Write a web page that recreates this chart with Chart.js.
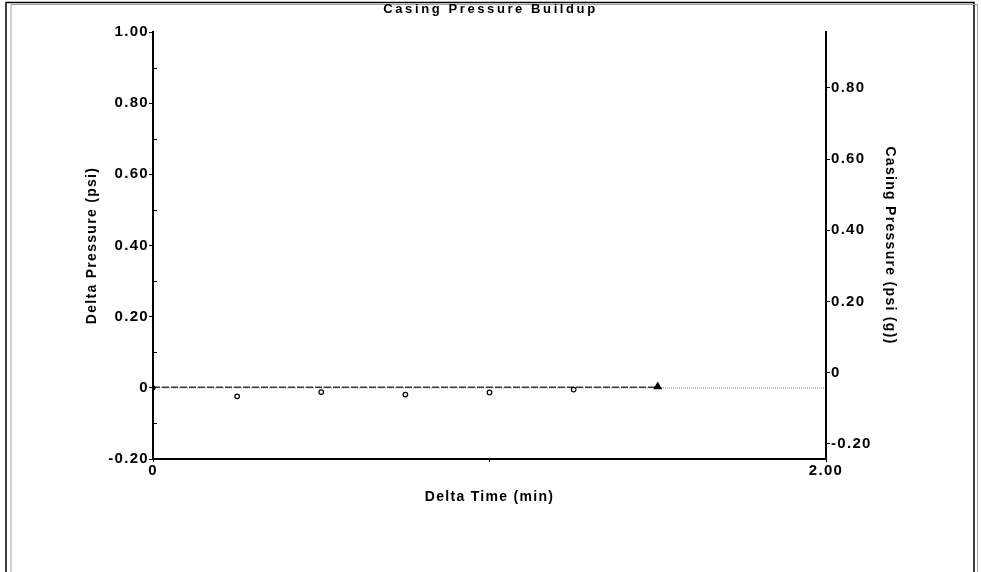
<!DOCTYPE html>
<html>
<head>
<meta charset="utf-8">
<title>Casing Pressure Buildup</title>
<script src="https://cdn.jsdelivr.net/npm/chart.js@4.4.0/dist/chart.umd.min.js"></script>
<style>
  html, body { margin: 0; padding: 0; background: #fff; }
  canvas { display: block; }
</style>
</head>
<body>
<canvas id="chart" width="981" height="572"></canvas>
<script>
// readings, delta time in minutes
const timeMin = [0, 0.25, 0.5, 0.75, 1.0, 1.25, 1.5];
const deltaPressure = [0, -0.024, -0.012, -0.019, -0.013, -0.005, 0.003];
const casingPressure = [-0.041, -0.041, -0.041, -0.041, -0.041, -0.041, -0.041];
const zeroLineX = [0, 2];
const zeroLineY = [0, 0];

// axis ticks
const leftTicks = [-0.2, 0, 0.2, 0.4, 0.6, 0.8, 1.0];
const leftMinorTicks = [-0.1, 0.1, 0.3, 0.5, 0.7, 0.9];
const rightTicks = [-0.2, 0, 0.2, 0.4, 0.6, 0.8];
const xTicks = [0, 1, 2];
const xTickLabels = ['0', '', '2.00'];

const FONT = '"Liberation Sans", Arial, sans-serif';

const fmt = (v) => (v === 0 ? '0' : v.toFixed(2));

// frame around the whole picture + letter spacing for the old-style text
const framePlugin = {
  id: 'frame',
  beforeDraw(chart) {
    const ctx = chart.ctx;
    ctx.save();
    ctx.fillStyle = '#fff';
    ctx.fillRect(0, 0, chart.width, chart.height);
    ctx.lineWidth = 1.5;
    ctx.strokeStyle = '#000';
    ctx.beginPath();
    ctx.moveTo(6, chart.height);
    ctx.lineTo(6, 2.5);
    ctx.lineTo(974, 2.5);
    ctx.lineTo(974, chart.height);
    ctx.stroke();
    ctx.lineWidth = 1;
    ctx.strokeStyle = '#a0a0a0';
    ctx.beginPath();
    ctx.moveTo(11, chart.height);
    ctx.lineTo(11, 4.5);
    ctx.lineTo(977.5, 4.5);
    ctx.lineTo(977.5, chart.height);
    ctx.stroke();
    ctx.restore();
    ctx.letterSpacing = '2.6px'; // main title
  },
  afterDatasetsDraw(chart) {
    chart.ctx.letterSpacing = '1.3px'; // axis titles and tick labels
  },
  afterDraw(chart) {
    const ctx = chart.ctx;
    ctx.letterSpacing = '0px';
    // minor ticks on the left axis point inward
    const y = chart.scales.y;
    const x0 = chart.chartArea.left;
    ctx.save();
    ctx.strokeStyle = '#000';
    ctx.lineWidth = 1;
    ctx.beginPath();
    leftMinorTicks.forEach((v) => {
      const py = Math.round(y.getPixelForValue(v)) + 0.5;
      ctx.moveTo(x0, py);
      ctx.lineTo(x0 + 4, py);
    });
    ctx.stroke();
    ctx.restore();
  }
};

const pointStyles = timeMin.map((t, i) => (i === timeMin.length - 1 ? 'triangle' : 'circle'));
const pointFills = timeMin.map((t, i) => (i === 0 || i === timeMin.length - 1 ? '#000' : '#fff'));
const pointSizes = timeMin.map((t, i) => (i === 0 ? 2 : i === timeMin.length - 1 ? 4 : 2.3));

const tickFont = { family: FONT, size: 15, weight: 'bold' };
const titleFont = { family: FONT, size: 14, weight: 'bold' };

new Chart(document.getElementById('chart'), {
  type: 'scatter',
  data: {
    datasets: [
      {
        label: 'Delta Pressure',
        data: timeMin.map((t, i) => ({ x: t, y: deltaPressure[i] })),
        yAxisID: 'y',
        showLine: false,
        pointStyle: pointStyles,
        pointRadius: pointSizes,
        pointBackgroundColor: pointFills,
        pointBorderColor: '#000',
        pointBorderWidth: 1.2,
        order: 1
      },
      {
        label: 'Casing Pressure',
        data: timeMin.map((t, i) => ({ x: t, y: casingPressure[i] })),
        yAxisID: 'y2',
        showLine: true,
        borderColor: '#3a3a3a',
        borderWidth: 1.5,
        borderDash: [7, 2],
        pointRadius: 0,
        order: 2
      },
      {
        label: 'zero',
        data: zeroLineX.map((t, i) => ({ x: t, y: zeroLineY[i] })),
        yAxisID: 'y',
        showLine: true,
        borderColor: '#8a8a8a',
        borderWidth: 1,
        borderDash: [1, 1],
        pointRadius: 0,
        order: 3
      }
    ]
  },
  options: {
    responsive: false,
    animation: false,
    devicePixelRatio: 1,
    layout: { padding: 0 },
    plugins: {
      legend: { display: false },
      tooltip: { enabled: false },
      title: {
        display: true,
        text: 'Casing Pressure Buildup',
        color: '#000',
        font: { family: FONT, size: 13, weight: 'bold' },
        padding: { top: 2, bottom: 14.4 }
      }
    },
    scales: {
      x: {
        type: 'linear',
        position: 'bottom',
        min: 0,
        max: 2,
        afterFit: (s) => { s.height = 113; },
        afterBuildTicks: (s) => { s.ticks = xTicks.map((v) => ({ value: v })); },
        ticks: {
          z: 1,
          color: '#000',
          padding: 0,
          maxRotation: 0,
          autoSkip: false,
          font: tickFont,
          callback: (v) => xTickLabels[xTicks.indexOf(v)]
        },
        grid: { z: 1, drawOnChartArea: false, tickLength: 3, tickColor: '#000', tickWidth: 1 },
        border: { z: 1, color: '#000', width: 2 },
        title: {
          display: true,
          text: 'Delta Time (min)',
          color: '#000',
          font: titleFont,
          padding: { top: 0, bottom: 66.1 }
        }
      },
      y: {
        type: 'linear',
        position: 'left',
        min: -0.2,
        max: 1.0,
        afterFit: (s) => { s.width = 153; },
        afterBuildTicks: (s) => { s.ticks = leftTicks.map((v) => ({ value: v })); },
        ticks: {
          z: 1,
          color: '#000',
          padding: 0,
          autoSkip: false,
          font: tickFont,
          callback: fmt
        },
        grid: { z: 1, drawOnChartArea: false, tickLength: 4, tickColor: '#000', tickWidth: 1 },
        border: { z: 1, color: '#000', width: 2 },
        title: {
          display: true,
          text: 'Delta Pressure (psi)',
          color: '#000',
          font: titleFont,
          padding: { top: 83.6, bottom: 0 }
        }
      },
      y2: {
        type: 'linear',
        position: 'right',
        min: -0.2424,
        max: 0.957,
        afterFit: (s) => { s.width = 155; },
        afterBuildTicks: (s) => { s.ticks = rightTicks.map((v) => ({ value: v })); },
        ticks: {
          z: 1,
          color: '#000',
          padding: 1,
          autoSkip: false,
          font: tickFont,
          callback: fmt
        },
        grid: { z: 1, drawOnChartArea: false, tickLength: 4, tickColor: '#000', tickWidth: 1 },
        border: { z: 1, color: '#000', width: 2 },
        title: {
          display: true,
          text: 'Casing Pressure (psi (g))',
          color: '#000',
          font: titleFont,
          padding: { top: 82.6, bottom: 0 }
        }
      }
    }
  },
  plugins: [framePlugin]
});
</script>
</body>
</html>
